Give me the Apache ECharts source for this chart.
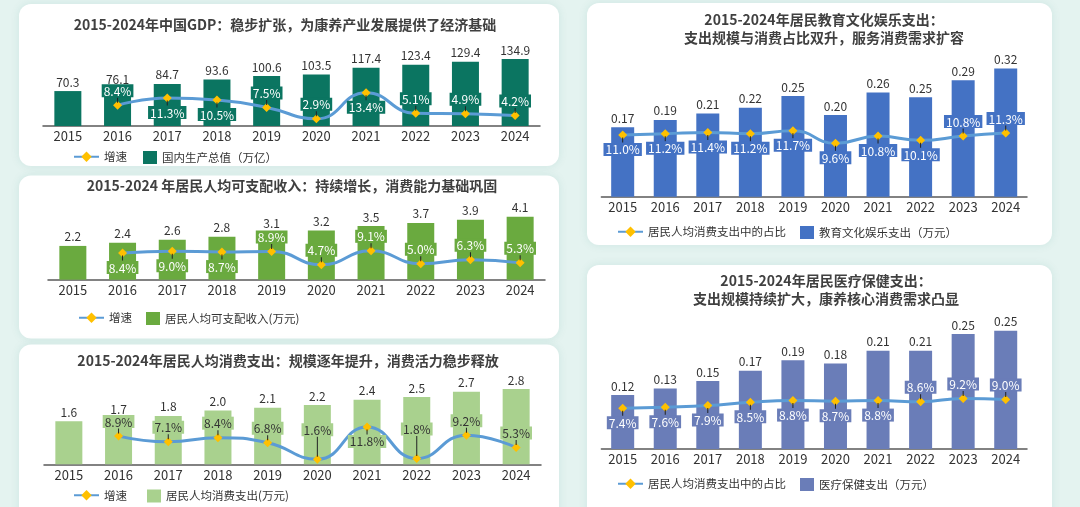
<!DOCTYPE html>
<html>
<head>
<meta charset="utf-8">
<script src="https://cdn.jsdelivr.net/npm/echarts@6/dist/echarts.min.js"></script>
<style>
html,body{margin:0;padding:0;background:#e4f3f0;}
#c{width:1080px;height:507px;}
</style>
</head>
<body>
<div id="c"></div>
<script>
// ---------------- DATA ----------------
const years = ['2015','2016','2017','2018','2019','2020','2021','2022','2023','2024'];

const gdpValues = [70.3, 76.1, 84.7, 93.6, 100.6, 103.5, 117.4, 123.4, 129.4, 134.9];
const gdpGrowth = [null, 8.4, 11.3, 10.5, 7.5, 2.9, 13.4, 5.1, 4.9, 4.2];

const incomeValues = [2.2, 2.4, 2.6, 2.8, 3.1, 3.2, 3.5, 3.7, 3.9, 4.1];
const incomeGrowth = [null, 8.4, 9.0, 8.7, 8.9, 4.7, 9.1, 5.0, 6.3, 5.3];

const consumValues = [1.6, 1.7, 1.8, 2.0, 2.1, 2.2, 2.4, 2.5, 2.7, 2.8];
const consumGrowth = [null, 8.9, 7.1, 8.4, 6.8, 1.6, 11.8, 1.8, 9.2, 5.3];

const eduValues = [0.172, 0.190, 0.206, 0.220, 0.249, 0.202, 0.258, 0.246, 0.288, 0.317];
const eduShare  = [11.0, 11.2, 11.4, 11.2, 11.7, 9.6, 10.8, 10.1, 10.8, 11.3];

const medValues = [0.116, 0.130, 0.146, 0.168, 0.191, 0.184, 0.211, 0.211, 0.247, 0.254];
const medShare  = [7.4, 7.6, 7.9, 8.5, 8.8, 8.7, 8.8, 8.6, 9.2, 9.0];

// ---------------- STYLE / LAYOUT ----------------
const U = 'up', D = 'down';
const FONT = '"Noto Sans CJK SC", "Noto Sans", sans-serif';
const panels = [
  { title:'2015-2024年中国GDP：稳步扩张，为康养产业发展提供了经济基础', tx:285, ty:16,
    grid:{left:43, top:46, width:497, height:80}, barMax:161, lineMin:0, lineMax:32.3,
    bars:gdpValues, line:gdpGrowth, digits:1, barColor:'#0b7561', labelText:'#fff',
    barName:'国内生产总值（万亿）', lineName:'增速', barWidth:27,
    sides:[U,U,D,D,U,U,D,U,U,U], ticks:[5,5,5,5,5,5,5,5,5,5],
    legY:158, legLine:73, legBar:143 },
  { title:'2015-2024 年居民人均可支配收入：持续增长，消费能力基础巩固', tx:292, ty:177,
    grid:{left:48, top:199.7, width:497, height:80}, barMax:5.21, lineMin:0, lineMax:25.2,
    bars:incomeValues, line:incomeGrowth, digits:1, barColor:'#6aaa3f', labelText:'#fff',
    barName:'居民人均可支配收入(万元)', lineName:'增速', barWidth:27,
    sides:[U,D,D,D,U,U,U,U,U,U], ticks:[5,5,5,5,5,5,5,5,5,5],
    legY:319, legLine:78, legBar:146 },
  { title:'2015-2024年居民人均消费支出：规模逐年提升，消费活力稳步释放', tx:288, ty:352,
    grid:{left:44, top:384.3, width:497, height:80}, barMax:2.974, lineMin:0, lineMax:25.24,
    bars:consumValues, line:consumGrowth, digits:1, barColor:'#a9d18e', labelText:'#333',
    barName:'居民人均消费支出(万元)', lineName:'增速', barWidth:27,
    sides:[U,U,U,U,U,U,D,U,U,U], ticks:[5,5,5,5,5,20,5,20,5,5],
    legY:496.5, legLine:73, legBar:147 },
  { title:'2015-2024年居民教育文化娱乐支出：\n支出规模与消费占比双升，服务消费需求扩容', tx:824, ty:11,
    grid:{left:601.4, top:56.7, width:425.6, height:140}, barMax:0.3465, lineMin:0.7, lineMax:24.03,
    bars:eduValues, line:eduShare, digits:2, barColor:'#4472c4', labelText:'#fff',
    barName:'教育文化娱乐支出（万元）', lineName:'居民人均消费支出中的占比', barWidth:23,
    sides:[D,D,D,D,D,D,D,D,U,U], ticks:[5,5,5,5,5,5,5,5,5,5],
    legY:233, legLine:617, legBar:800 },
  { title:'2015-2024年居民医疗保健支出：\n支出规模持续扩大，康养核心消费需求凸显', tx:826, ty:272,
    grid:{left:601.4, top:309, width:425.6, height:140}, barMax:0.301, lineMin:0, lineMax:25.45,
    bars:medValues, line:medShare, digits:2, barColor:'#6a7db8', labelText:'#fff',
    barName:'医疗保健支出（万元）', lineName:'居民人均消费支出中的占比', barWidth:23,
    sides:[D,D,D,D,D,D,D,U,U,U], ticks:[5,5,5,5,5,5,5,5,5,5],
    legY:485, legLine:617, legBar:800 }
];

const cards = [
  {x:19, y:4, w:540, h:162},
  {x:19, y:175.5, w:540, h:163},
  {x:19, y:344.5, w:540, h:180},
  {x:587, y:3, w:465, h:242},
  {x:587, y:265, w:465, h:260}
];

const option = {
  backgroundColor:'#e4f3f0',
  textStyle:{fontFamily:FONT},
  animation:false,
  graphic: cards.map(c => ({
    type:'rect', silent:true, z:0,
    shape:{x:c.x, y:c.y, width:c.w, height:c.h, r:12},
    style:{fill:'#ffffff', shadowBlur:10, shadowColor:'rgba(0,120,105,0.10)'}
  })),
  title:[], legend:[], grid:[], xAxis:[], yAxis:[], series:[]
};

panels.forEach((p, i) => {
  option.title.push({
    text:p.title, left:p.tx, top:p.ty, textAlign:'center', padding:0,
    textStyle:{fontSize:14, fontWeight:'bold', color:'#404040', lineHeight:17.5, fontFamily:FONT}
  });
  option.grid.push(Object.assign({containLabel:false}, p.grid));
  option.xAxis.push({
    type:'category', gridIndex:i, data:years,
    axisLine:{lineStyle:{color:'#595959', width:1.5}},
    axisTick:{show:false},
    axisLabel:{color:'#333', fontSize:13, margin:4, fontFamily:FONT}
  });
  option.yAxis.push({type:'value', gridIndex:i, min:0, max:p.barMax, show:false, splitLine:{show:false}});
  option.yAxis.push({type:'value', gridIndex:i, min:p.lineMin, max:p.lineMax, show:false, splitLine:{show:false}});

  option.series.push({
    type:'bar', name:p.barName, xAxisIndex:i, yAxisIndex:2*i,
    data:p.bars, barWidth:p.barWidth, z:2,
    itemStyle:{color:p.barColor},
    label:{show:true, position:'top', distance:3, color:'#333', fontSize:12, fontFamily:FONT,
      formatter: d => d.value.toFixed(p.digits)}
  });

  const lineData = p.line.map((v, k) => v === null ? null :
    ({value:v, label:{position: p.sides[k] === U ? 'top' : 'bottom'}}));

  option.series.push({
    type:'line', name:p.lineName, xAxisIndex:i, yAxisIndex:2*i+1,
    data:lineData, smooth:0.5, z:4,
    symbol:'diamond', symbolSize:9, showSymbol:true,
    lineStyle:{color:'#5b9bd5', width:3},
    itemStyle:{color:'#ffc000'},
    label:{
      show:true, distance:-2, fontFamily:FONT,
      formatter: d => {
        const k = d.dataIndex;
        const txt = d.value.toFixed(1) + '%';
        const t = 't' + p.ticks[k];
        return p.sides[k] === U ? `{v|${txt}}\n{${t}| }` : `{${t}| }\n{v|${txt}}`;
      },
      rich:{
        v:{color:p.labelText, backgroundColor:p.barColor, fontSize:12, lineHeight:14,
           padding:[1,2,0,2], fontFamily:FONT},
        t5:{width:1, height:5, lineHeight:5, backgroundColor:'#222', fontSize:1},
        t20:{width:1, height:20, lineHeight:20, backgroundColor:'#222', fontSize:1}
      }
    }
  });

  option.legend.push({
    left:p.legLine, top:p.legY - 7, padding:0, itemWidth:25, itemHeight:13, itemGap:5,
    selectedMode:false, data:[p.lineName],
    textStyle:{fontSize:11.5, color:'#333', fontFamily:FONT}
  });
  option.legend.push({
    left:p.legBar, top:p.legY - 7, padding:0, itemWidth:14, itemHeight:13, itemGap:5,
    selectedMode:false, data:[{name:p.barName, icon:'rect'}],
    textStyle:{fontSize:11.5, color:'#333', fontFamily:FONT}
  });
});

const chart = echarts.init(document.getElementById('c'), null, {renderer:'canvas'});
chart.setOption(option);
</script>
</body>
</html>
